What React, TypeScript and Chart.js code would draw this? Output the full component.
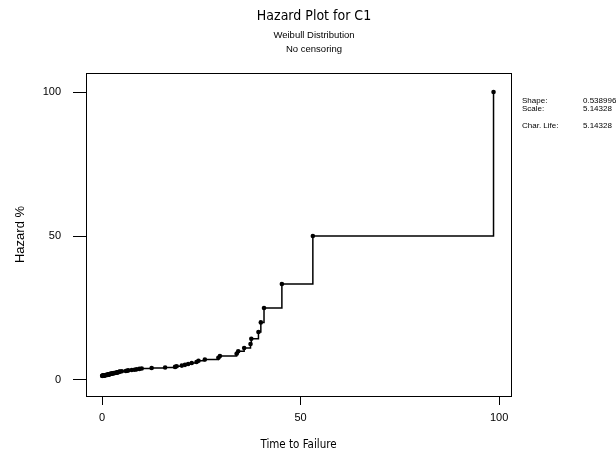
import React, { useEffect, useRef } from "react";
import { Chart, registerables } from "chart.js";

Chart.register(...registerables);

// Failure times (ascending) and the matching hazard %
const failureTimes = [
  0.05, 0.1, 0.15, 0.2, 0.3, 0.35, 0.45, 0.5, 0.6, 0.7, 0.8, 0.9, 1.0, 1.2,
  1.3, 1.4, 1.5, 1.6, 1.7, 1.8, 1.85, 1.9, 2.0,
  2.2, 2.3, 2.5, 2.6, 2.8,
  3.0, 3.2, 3.5, 3.7,
  3.9, 4.0, 4.2, 4.4, 4.5,
  5.0, 6.0,
  6.3, 6.6, 7.5,
  8.2, 8.7,
  9.4, 10.0, 12.5, 15.9, 18.4, 18.8, 20.1, 20.9, 21.7, 22.6, 23.8, 24.3, 25.9,
  29.3, 29.7, 33.9, 34.3, 35.8, 37.4, 37.6, 39.4, 40.0, 40.8, 45.3, 53.1, 98.6,
];
const hazardPct = [
  1.43, 1.45, 1.47, 1.49, 1.52, 1.54, 1.56, 1.59, 1.61, 1.64, 1.67, 1.69, 1.72, 1.75,
  1.79, 1.82, 1.85, 1.89, 1.92, 1.96, 2.0, 2.04, 2.08,
  2.13, 2.17, 2.22, 2.27, 2.33,
  2.38, 2.44, 2.5, 2.56,
  2.63, 2.7, 2.78, 2.86, 2.94,
  3.03, 3.13,
  3.23, 3.33, 3.45,
  3.57, 3.7,
  3.85, 4.0, 4.17, 4.35, 4.55, 4.76, 5.0, 5.26, 5.56, 5.88, 6.25, 6.67, 7.14,
  7.69, 8.33, 9.09, 10.0, 11.11, 12.5, 14.29, 16.67, 20.0, 25.0, 33.33, 50.0, 100.0,
];
const xTicks = [0, 50, 100];
const yTicks = [0, 50, 100];
const statLabels = ["Shape:", "Scale:", "Char. Life:"];
const statValues = ["0.538996", "5.14328", "5.14328"];
const titleText = "Hazard Plot for C1";
const subtitleLines = ["Weibull Distribution", "No censoring"];
const xTitle = "Time to Failure";
const yTitle = "Hazard %";

const NARROW = "'Liberation Sans Narrow', 'Arial Narrow', 'DejaVu Sans Condensed', sans-serif";
const SANS = "'Liberation Sans', Arial, sans-serif";

const framePlugin = {
  id: "frame",
  afterDraw(chart: any) {
    const { ctx, chartArea } = chart;
    ctx.save();
    ctx.strokeStyle = "#000";
    ctx.lineWidth = 1;
    ctx.strokeRect(
      Math.round(chartArea.left) + 0.5,
      Math.round(chartArea.top) + 0.5,
      Math.round(chartArea.right - chartArea.left),
      Math.round(chartArea.bottom - chartArea.top)
    );
    // statistics block
    ctx.fillStyle = "#000";
    ctx.font = `8px ${SANS}`;
    ctx.textBaseline = "middle";
    ctx.textAlign = "left";
    const rows = [101, 108.5, 126];
    statLabels.forEach((lab, i) => {
      ctx.fillText(lab, chartArea.right + 11, rows[i]);
      ctx.fillText(statValues[i], chartArea.right + 72, rows[i]);
    });
    ctx.restore();
  },
};

export default function App() {
  const ref = useRef<HTMLCanvasElement | null>(null);
  useEffect(() => {
    if (!ref.current) return;
    const chart = new Chart(ref.current, {
      type: "scatter",
      data: {
        datasets: [
          {
            data: failureTimes.map((t, i) => ({ x: t, y: hazardPct[i] })),
            showLine: true,
            stepped: "before",
            borderColor: "#000",
            borderWidth: 1.5,
            pointRadius: 2.3,
            pointBackgroundColor: "#000",
            pointBorderWidth: 0,
            xAxisID: "x",
            yAxisID: "y",
          } as any,
        ],
      },
      options: {
        responsive: false,
        animation: false,
        devicePixelRatio: 1,
        layout: { padding: { left: 12, right: 0, top: 0, bottom: 0 } },
        plugins: {
          legend: { display: false },
          tooltip: { enabled: false },
          title: {
            display: true,
            text: titleText,
            color: "#000",
            font: { family: NARROW, size: 14, weight: "normal", lineHeight: 1.2 },
            padding: { top: 7.6, bottom: 3.6 },
          },
          subtitle: {
            display: true,
            text: subtitleLines,
            color: "#000",
            font: { family: SANS, size: 9.5, weight: "normal", lineHeight: 1.474 },
            padding: { top: 0, bottom: 17 },
          },
        },
        scales: {
          x: {
            type: "linear",
            position: "bottom",
            min: -4.03,
            max: 103,
            afterBuildTicks: (s: any) => {
              s.ticks = xTicks.map((v) => ({ value: v }));
            },
            afterFit: (s: any) => {
              s.height = 57;
            },
            border: { display: false },
            grid: {
              display: true,
              drawOnChartArea: false,
              drawTicks: true,
              tickLength: 9,
              tickColor: "#000",
              color: "#000",
            },
            ticks: {
              color: "#000",
              padding: 6.4,
              maxRotation: 0,
              font: { family: SANS, size: 11 },
            },
            title: {
              display: true,
              text: xTitle,
              color: "#000",
              font: { family: NARROW, size: 11.5 },
              padding: { top: 0, bottom: 1 },
            },
          },
          y: {
            type: "linear",
            position: "left",
            min: -5.56,
            max: 106.6,
            afterBuildTicks: (s: any) => {
              s.ticks = yTicks.map((v) => ({ value: v }));
            },
            afterFit: (s: any) => {
              s.width = 74;
            },
            border: { display: false },
            grid: {
              display: true,
              drawOnChartArea: false,
              drawTicks: true,
              tickLength: 13,
              tickColor: "#000",
              color: "#000",
            },
            ticks: {
              color: "#000",
              padding: 12,
              font: { family: SANS, size: 11 },
            },
            title: {
              display: true,
              text: yTitle,
              color: "#000",
              font: { family: SANS, size: 13 },
              padding: { top: 0.2, bottom: 0 },
            },
          },
          y2: {
            type: "linear",
            position: "right",
            display: true,
            afterFit: (s: any) => {
              s.width = 105;
            },
            border: { display: false },
            grid: { display: false },
            ticks: { display: false },
          },
        },
      } as any,
      plugins: [framePlugin],
    });
    return () => chart.destroy();
  }, []);

  return (
    <div style={{ position: "fixed", left: 0, top: 0, width: 616, height: 453, background: "#fff" }}>
      <canvas ref={ref} width={616} height={453} style={{ width: 616, height: 453 }} />
    </div>
  );
}
